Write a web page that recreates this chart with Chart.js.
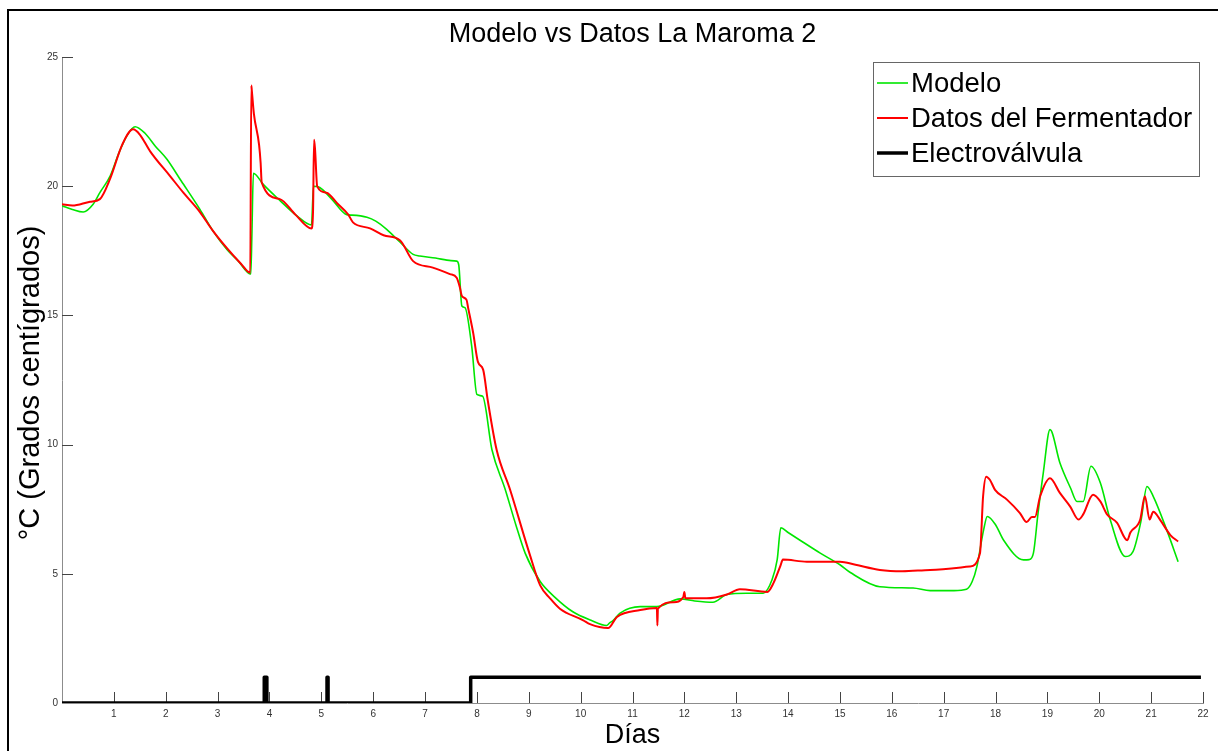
<!DOCTYPE html>
<html>
<head>
<meta charset="utf-8">
<title>Modelo vs Datos La Maroma 2</title>
<script src="https://cdn.jsdelivr.net/npm/chart.js@4.4.1/dist/chart.umd.min.js"></script>
<style>
  html, body { margin: 0; padding: 0; background: #fff; }
  #wrap { position: relative; width: 1218px; height: 751px; }
</style>
</head>
<body>
<div id="wrap"><canvas id="grafico"></canvas></div>
<script>
// Modelo (simulación)
const modeloDias = [0, 0.2, 0.41, 0.6, 0.73, 0.93, 1.1, 1.25, 1.41, 1.6, 1.8, 2.02, 2.3, 2.66, 2.9, 3.18, 3.4, 3.64, 3.66, 3.69,
  3.88, 4.2, 4.53, 4.81, 4.85, 4.97, 5.2, 5.49, 5.59, 5.88, 6.05, 6.26, 6.52, 6.77, 6.9, 7.2, 7.5, 7.61, 7.65, 7.71,
  7.77, 7.9, 8.0, 8.11, 8.29, 8.54, 8.75, 8.93, 9.22, 9.5, 9.85, 10.2, 10.5, 10.56, 10.63, 10.76, 11.15, 11.47, 11.92, 12.2,
  12.55, 12.82, 13.2, 13.52, 13.69, 13.79, 13.86, 14.0, 14.23, 14.62, 15.0, 15.2, 15.77, 16.41, 16.74, 17.2, 17.44, 17.55, 17.64, 17.77,
  17.84, 18.0, 18.15, 18.54, 18.65, 18.73, 18.82, 18.92, 19.05, 19.24, 19.45, 19.57, 19.69, 19.84, 20.02, 20.21, 20.5, 20.65, 20.8, 20.92,
  21.04, 21.3, 21.52];
const modeloTemp = [19.24, 19.1, 19.0, 19.3, 19.75, 20.4, 21.3, 21.95, 22.3, 22.05, 21.55, 21.05, 20.2, 19.1, 18.3, 17.55, 17.1, 16.6, 18.0, 20.5,
  20.07, 19.45, 18.85, 18.5, 20.0, 19.95, 19.5, 18.9, 18.88, 18.8, 18.65, 18.33, 17.83, 17.36, 17.3, 17.22, 17.12, 17.1, 16.95, 15.36,
  15.3, 13.8, 11.94, 11.87, 9.8, 8.3, 6.9, 5.8, 4.7, 4.1, 3.53, 3.2, 3.0, 3.1, 3.2, 3.48, 3.73, 3.73, 4.03, 3.95,
  3.9, 4.2, 4.25, 4.25, 4.77, 5.55, 6.78, 6.6, 6.3, 5.8, 5.35, 5.05, 4.5, 4.45, 4.35, 4.35, 4.4, 4.7, 5.28, 6.7,
  7.22, 6.9, 6.32, 5.54, 5.55, 5.8, 7.36, 8.9, 10.58, 9.3, 8.3, 7.8, 7.8, 9.16, 8.52, 7.1, 5.67, 5.86, 7.0, 8.38,
  8.0, 6.7, 5.47];

// Datos medidos en el fermentador
const datosDias = [0, 0.2, 0.54, 0.73, 0.93, 1.16, 1.37, 1.5, 1.7, 2.08, 2.34, 2.66, 2.9, 3.18, 3.45, 3.63, 3.65, 3.66, 3.7, 3.8,
  3.83, 3.85, 4.2, 4.5, 4.81, 4.84, 4.86, 4.88, 4.92, 5.1, 5.3, 5.52, 5.61, 5.94, 6.2, 6.52, 6.77, 7.15, 7.48, 7.61,
  7.67, 7.71, 7.8, 7.83, 7.93, 8.02, 8.12, 8.21, 8.38, 8.64, 9.02, 9.22, 9.41, 9.6, 10.05, 10.18, 10.53, 10.7, 11.15, 11.47,
  11.48, 11.49, 11.79, 11.98, 12.0, 12.02, 12.43, 12.82, 13.07, 13.6, 13.72, 13.85, 13.9, 14.36, 15.0, 15.3, 15.77, 16.2, 16.74, 17.5,
  17.7, 17.76, 17.82, 17.89, 17.99, 18.22, 18.47, 18.6, 18.7, 18.76, 18.86, 19.05, 19.24, 19.44, 19.6, 19.69, 19.88, 20.02, 20.15, 20.34,
  20.54, 20.6, 20.79, 20.88, 20.97, 21.04, 21.17, 21.37, 21.52];
const datosTemp = [19.3, 19.25, 19.4, 19.5, 20.3, 21.6, 22.2, 22.0, 21.35, 20.4, 19.75, 19.0, 18.3, 17.6, 17.0, 16.65, 23.9, 23.7, 22.8, 21.6,
  20.9, 20.15, 19.5, 18.9, 18.36, 19.0, 21.8, 21.4, 20.0, 19.75, 19.35, 18.9, 18.6, 18.37, 18.1, 17.9, 17.1, 16.85, 16.6, 16.46,
  16.1, 15.75, 15.6, 15.3, 14.3, 13.2, 12.9, 11.7, 9.8, 8.25, 5.74, 4.55, 4.05, 3.65, 3.2, 3.05, 2.9, 3.33, 3.6, 3.68,
  3.0, 3.65, 3.9, 4.1, 4.3, 4.05, 4.05, 4.2, 4.4, 4.3, 4.65, 5.3, 5.55, 5.47, 5.47, 5.35, 5.15, 5.1, 5.15, 5.28,
  5.8, 8.0, 8.76, 8.64, 8.25, 7.87, 7.35, 7.0, 7.2, 7.2, 8.0, 8.7, 8.13, 7.6, 7.1, 7.3, 8.06, 7.8, 7.3, 6.98,
  6.3, 6.6, 7.1, 8.0, 7.1, 7.4, 7.1, 6.5, 6.25];

// Estado de la electroválvula (0 = cerrada, 1 = abierta)
const valvulaDias = [0, 3.9, 3.9, 3.95, 3.95, 5.11, 5.11, 5.13, 5.13, 7.88, 7.88, 21.96];
const valvulaEstado = [0, 0, 1, 1, 0, 0, 1, 1, 0, 0, 1, 1];

const ticksX = [1, 2, 3, 4, 5, 6, 7, 8, 9, 10, 11, 12, 13, 14, 15, 16, 17, 18, 19, 20, 21, 22];
const ticksY = [0, 5, 10, 15, 20, 25];

const FUENTE = '"Liberation Sans", Arial, sans-serif';

function puntos(xs, ys) {
  return xs.map((x, i) => ({ x: x, y: ys[i] }));
}

// dibuja marco, título, rótulos de ejes, marcas internas y leyenda
const decoracion = {
  id: 'decoracion',
  beforeDatasetsDraw(chart) {
    const ctx = chart.ctx;
    const sx = chart.scales.x, sy = chart.scales.y;
    ctx.save();
    ctx.strokeStyle = '#444';
    ctx.lineWidth = 1;
    ctx.beginPath();
    ticksX.forEach(v => {
      const px = Math.round(sx.getPixelForValue(v)) + 0.5;
      ctx.moveTo(px, sy.bottom);
      ctx.lineTo(px, sy.bottom - 11);
    });
    ticksY.slice(1).forEach(v => {
      const py = Math.round(sy.getPixelForValue(v)) + 0.5;
      ctx.moveTo(sx.left, py);
      ctx.lineTo(sx.left + 11, py);
    });
    ctx.stroke();
    ctx.restore();
  },
  afterDraw(chart) {
    const ctx = chart.ctx;
    const sx = chart.scales.x;
    ctx.save();
    // marco exterior
    ctx.strokeStyle = '#000';
    ctx.lineWidth = 2;
    ctx.beginPath();
    ctx.moveTo(8, 751);
    ctx.lineTo(8, 10);
    ctx.lineTo(1218, 10);
    ctx.stroke();

    ctx.fillStyle = '#000';
    ctx.textAlign = 'center';
    ctx.textBaseline = 'middle';
    ctx.font = '27px ' + FUENTE;
    ctx.fillText('Modelo vs Datos La Maroma 2', (sx.left + sx.right) / 2, 35);

    ctx.fillText('Días', (sx.left + sx.right) / 2, 736);

    ctx.save();
    ctx.translate(31, 383);
    ctx.rotate(-Math.PI / 2);
    ctx.font = '29px ' + FUENTE;
    ctx.fillText('°C (Grados centígrados)', 0, 0);
    ctx.restore();

    // leyenda
    ctx.strokeStyle = '#666';
    ctx.lineWidth = 1;
    ctx.strokeRect(873.5, 62.5, 326, 114);
    const filasY = [83, 118, 153];
    ctx.textAlign = 'left';
    ctx.font = '27.5px ' + FUENTE;
    chart.data.datasets.forEach((ds, i) => {
      ctx.strokeStyle = ds.borderColor;
      ctx.lineWidth = ds.borderWidth;
      ctx.beginPath();
      ctx.moveTo(877, filasY[i]);
      ctx.lineTo(908, filasY[i]);
      ctx.stroke();
      ctx.fillStyle = '#000';
      ctx.fillText(ds.label, 911, filasY[i] + 1);
    });
    ctx.restore();
  }
};

new Chart(document.getElementById('grafico'), {
  type: 'scatter',
  data: {
    datasets: [
      {
        label: 'Modelo',
        data: puntos(modeloDias, modeloTemp),
        showLine: true,
        borderColor: '#00e600',
        borderWidth: 1.6,
        pointRadius: 0,
        cubicInterpolationMode: 'monotone',
        order: 3
      },
      {
        label: 'Datos del Fermentador',
        data: puntos(datosDias, datosTemp),
        showLine: true,
        borderColor: '#ff0000',
        borderWidth: 2,
        pointRadius: 0,
        cubicInterpolationMode: 'monotone',
        order: 2
      },
      {
        label: 'Electroválvula',
        data: puntos(valvulaDias, valvulaEstado),
        showLine: true,
        borderColor: '#000000',
        borderWidth: 3.5,
        borderJoinStyle: 'round',
        pointRadius: 0,
        order: 1
      }
    ]
  },
  options: {
    responsive: true,
    maintainAspectRatio: false,
    animation: false,
    layout: { padding: { top: 57, right: 15, left: 0, bottom: 0 } },
    plugins: {
      legend: { display: false },
      title: { display: false },
      tooltip: { enabled: false }
    },
    scales: {
      x: {
        type: 'linear',
        min: 0,
        max: 22,
        grid: { display: false, drawTicks: false },
        border: { display: true, color: '#8c8c8c', width: 1 },
        ticks: {
          stepSize: 1,
          padding: 5,
          color: '#333',
          font: { family: FUENTE, size: 10 },
          maxRotation: 0,
          autoSkip: false,
          callback: v => (ticksX.includes(v) ? String(v) : '')
        },
        afterFit(scale) { scale.height = 48; }
      },
      y: {
        min: 0,
        max: 25,
        grid: { display: false, drawTicks: false },
        border: { display: true, color: '#8c8c8c', width: 1 },
        ticks: {
          stepSize: 5,
          padding: 4,
          color: '#333',
          font: { family: FUENTE, size: 10 },
          callback: v => (ticksY.includes(v) ? String(v) : '')
        },
        afterFit(scale) { scale.width = 62; }
      }
    }
  },
  plugins: [decoracion]
});
</script>
</body>
</html>
